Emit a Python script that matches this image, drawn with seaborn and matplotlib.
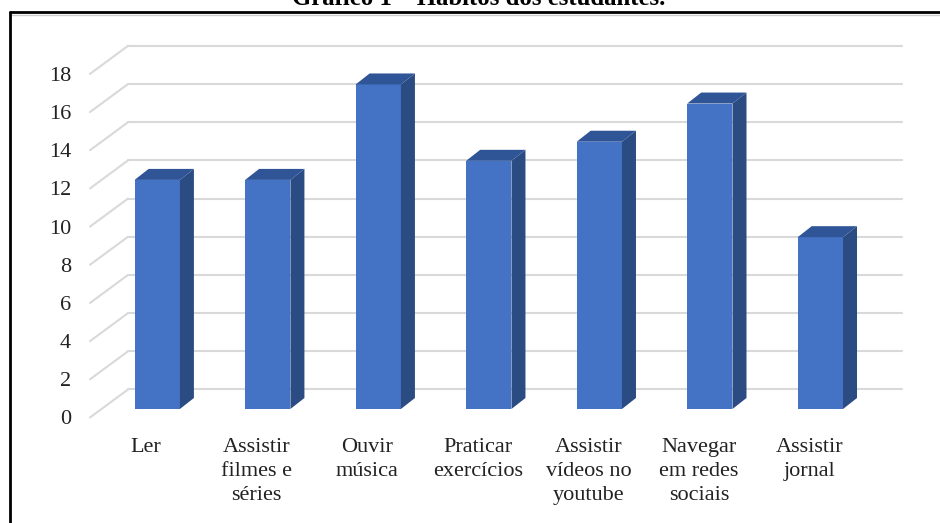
import matplotlib
matplotlib.use("Agg")
import matplotlib.pyplot as plt
import matplotlib.transforms as mtransforms
from matplotlib.patches import Polygon
from matplotlib.lines import Line2D
import seaborn as sns

# --- data ---
categories = ["Ler", "Assistir\nfilmes e\nséries", "Ouvir\nmúsica", "Praticar\nexercícios",
              "Assistir\nvídeos no\nyoutube", "Navegar\nem redes\nsociais", "Assistir\njornal"]
values = [12, 12, 17, 13, 14, 16, 9]
yticks = [0, 2, 4, 6, 8, 10, 12, 14, 16, 18]
title = "Gráfico 1 – Hábitos dos estudantes."

FRONT = "#4472C4"
TOP = "#2F5597"
SIDE = "#2B4B83"
GRID = "#D9D9D9"

sns.set_theme(style="white")
plt.rcParams['font.family'] = ['Liberation Serif', 'DejaVu Serif']

fig = plt.figure(figsize=(9.4, 5.23), dpi=100)
ax = fig.add_axes([0.1085, 0.218, 0.823, 0.657])

sns.barplot(x=list(range(len(values))), y=values, color=FRONT, saturation=1,
            width=0.41, ax=ax, zorder=3, linewidth=0)
ax.set_xlim(-0.5, len(values) - 0.5)
ax.set_ylim(0, 18)
ax.axis('off')

# 3D look: back wall is shifted up/right, bars get a small depth
wall = mtransforms.offset_copy(ax.transData, fig=fig, x=26, y=19.5, units='dots')
front_l = mtransforms.offset_copy(ax.transData, fig=fig, x=-12, y=-8.5, units='dots')
ident = mtransforms.IdentityTransform()

for v in yticks:
    ax.plot([-0.5, len(values) - 0.5], [v, v], color=GRID, lw=1.5, transform=wall,
            zorder=1, clip_on=False)
    p_back = wall.transform((-0.5, v))
    p_front = front_l.transform((-0.5, v))
    ax.add_line(Line2D([p_back[0], p_front[0]], [p_back[1], p_front[1]], color=GRID,
                       lw=1.5, transform=ident, zorder=1, clip_on=False))
    ax.text(p_front[0] - 19, p_front[1], str(v), transform=ident, ha='right',
            va='center_baseline', fontsize=16, color="#222222")

dx, dy = 14, 11
for bar in ax.patches:
    x0, y0 = ax.transData.transform((bar.get_x(), 0))
    x1, y1 = ax.transData.transform((bar.get_x() + bar.get_width(), bar.get_height()))
    side = Polygon([(x1, y0), (x1, y1), (x1 + dx, y1 + dy), (x1 + dx, y0 + dy)],
                   closed=True, facecolor=SIDE, edgecolor='none', transform=ident,
                   zorder=3, clip_on=False)
    top = Polygon([(x0, y1), (x1, y1), (x1 + dx, y1 + dy), (x0 + dx, y1 + dy)],
                  closed=True, facecolor=TOP, edgecolor='none', transform=ident,
                  zorder=3, clip_on=False)
    ax.add_patch(side)
    ax.add_patch(top)

cat_t = mtransforms.offset_copy(ax.transData, fig=fig, x=-11, y=-29, units='dots')
for i, c in enumerate(categories):
    ax.text(i, 0, c, transform=cat_t, ha='center', va='top', fontsize=16,
            linespacing=1.34, color="#222222")

# frame of the figure box (top and left edges visible)
fig.add_artist(Line2D([10 / 940, 1], [1 - 12 / 523, 1 - 12 / 523], color='black', lw=2,
                      transform=fig.transFigure))
fig.add_artist(Line2D([10 / 940, 1], [1 - 14.5 / 523, 1 - 14.5 / 523], color='#cccccc', lw=1,
                      transform=fig.transFigure))
fig.add_artist(Line2D([10 / 940, 10 / 940], [0, 1 - 12 / 523], color='black', lw=2,
                      transform=fig.transFigure))

fig.text(479 / 940, 1 - 5 / 523, title, ha='center', va='baseline', fontsize=17.8,
         fontweight='bold', color='black')

fig.savefig("out.png", dpi=100)
